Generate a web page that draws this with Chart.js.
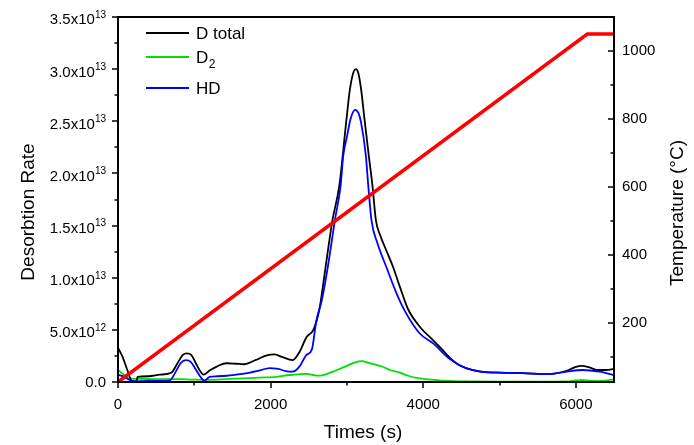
<!DOCTYPE html>
<html><head><meta charset="utf-8">
<script src="https://cdn.jsdelivr.net/npm/chart.js@4"></script>
<style>html,body{margin:0;padding:0;background:#fff}#wrap{width:694px;height:445px}</style>
</head><body><div id="wrap"><canvas id="c" width="694" height="445"></canvas></div>
<script>
// ---- data (rates in units of 1e12, time in s, temperature in °C) ----
const seriesLabels = ['D total', 'D₂', 'HD'];
const tTotal = [0,60,120,180,245,255,400,550,700,780,850,900,960,1020,1080,1120,1200,1300,1420,1550,1650,1800,1950,2050,2150,2290,2380,2470,2560,2640,2720,2810,2900,2990,3040,3090,3120,3150,3185,3235,3290,3335,3380,3440,3500,3606,3700,3800,3955,4130,4250,4350,4450,4570,4750,5000,5300,5650,5880,6000,6080,6180,6280,6400,6500];
const dTotal = [3.3,2.4,1.2,0.1,0.05,0.5,0.55,0.7,0.9,1.8,2.6,2.75,2.6,1.8,1.0,0.7,1.1,1.5,1.8,1.75,1.7,2.1,2.55,2.65,2.4,2.1,2.9,4.3,5.0,7.0,11.0,15.5,18.8,24.9,28.1,29.8,30.0,29.6,28.1,24.9,21.5,18.8,15.5,14.0,12.9,11.0,9.0,7.0,5.3,4.0,3.1,2.3,1.7,1.3,1.0,0.9,0.85,0.76,1.08,1.45,1.55,1.4,1.15,1.15,1.25];
const tD2 = [0,60,130,300,500,770,1000,1200,1450,1640,1850,2080,2250,2470,2600,2690,2820,2950,3100,3190,3300,3470,3562,3693,3800,3955,4150,4350,4700,5000,5500,5877,6000,6073,6200,6350,6500];
const d2 = [1.15,0.8,0.35,0.3,0.28,0.27,0.22,0.2,0.3,0.35,0.42,0.5,0.67,0.78,0.62,0.67,1.0,1.4,1.85,2.0,1.8,1.46,1.15,0.9,0.6,0.35,0.2,0.1,0.05,0.03,0.03,0.05,0.15,0.19,0.12,0.1,0.26];
const tHD = [0,80,150,220,400,550,680,750,820,890,950,1020,1080,1130,1200,1300,1430,1600,1730,1850,1990,2100,2200,2290,2380,2470,2540,2600,2670,2760,2842,2917,2952,3000,3050,3108,3150,3185,3248,3280,3322,3400,3518,3650,3760,3955,4130,4350,4570,4800,5000,5300,5650,5880,6090,6310,6500];
const hd = [0.7,0.5,0.2,0.05,0.1,0.1,0.15,0.9,1.8,2.1,1.95,1.2,0.5,0.1,0.5,0.55,0.6,0.75,0.9,1.1,1.34,1.25,1.05,1.0,1.5,2.6,3.1,5.9,7.8,11.5,15.5,18.8,21.7,23.5,25.3,26.1,25.8,24.9,21.7,18.8,15.5,13.3,11.0,8.5,6.8,4.65,3.7,2.2,1.3,0.95,0.89,0.85,0.76,0.99,1.15,0.99,0.67];
const tTemp = [0,6150,6500];
const temp = [25,1050,1050];

// ---- axes ----
const xTicks = [0,2000,4000,6000];
const xMinor = [1000,3000,5000];
const rateTicks = [0,5,10,15,20,25,30,35];
const rateTickBase = ['0.0','5.0x10','1.0x10','1.5x10','2.0x10','2.5x10','3.0x10','3.5x10'];
const rateTickExp = ['','12','13','13','13','13','13','13'];
const rateMinor = [2.5,7.5,12.5,17.5,22.5,27.5,32.5];
const tempTicks = [200,400,600,800,1000];
const tempMinor = [100,300,500,700,900];

const FONT = '"Liberation Sans", Arial, sans-serif';
const zip = (xs, ys) => xs.map((x, i) => ({x: x, y: ys[i]}));
const SUB = {'₀':'0','₁':'1','₂':'2','₃':'3'};

const decor = {
  id: 'decor',
  afterDraw(chart) {
    const ctx = chart.ctx, a = chart.chartArea;
    const sx = chart.scales.x, sy = chart.scales.y, sy2 = chart.scales.y2;
    ctx.save();
    ctx.strokeStyle = '#000';
    ctx.lineWidth = 2;
    ctx.strokeRect(a.left, a.top, a.right - a.left, a.bottom - a.top);
    ctx.lineWidth = 1.5;
    ctx.beginPath();
    xTicks.forEach(v => { const p = Math.round(sx.getPixelForValue(v)); ctx.moveTo(p, a.bottom); ctx.lineTo(p, a.bottom + 6); });
    xMinor.forEach(v => { const p = Math.round(sx.getPixelForValue(v)); ctx.moveTo(p, a.bottom); ctx.lineTo(p, a.bottom + 3.5); });
    rateTicks.forEach(v => { const p = Math.round(sy.getPixelForValue(v)); ctx.moveTo(a.left, p); ctx.lineTo(a.left - 6, p); });
    rateMinor.forEach(v => { const p = Math.round(sy.getPixelForValue(v)); ctx.moveTo(a.left, p); ctx.lineTo(a.left - 3.5, p); });
    tempTicks.forEach(v => { const p = Math.round(sy2.getPixelForValue(v)); ctx.moveTo(a.right, p); ctx.lineTo(a.right - 6, p); });
    tempMinor.forEach(v => { const p = Math.round(sy2.getPixelForValue(v)); ctx.moveTo(a.right, p); ctx.lineTo(a.right - 3.5, p); });
    ctx.stroke();

    ctx.fillStyle = '#000';
    ctx.textBaseline = 'alphabetic';
    // left tick labels with superscript exponents
    const right = 106;
    rateTicks.forEach((v, i) => {
      const p = sy.getPixelForValue(v);
      const base = rateTickBase[i], ex = rateTickExp[i];
      ctx.font = '15px ' + FONT;
      const wb = ctx.measureText(base).width;
      ctx.font = '10px ' + FONT;
      const we = ex ? ctx.measureText(ex).width : 0;
      const bl = ex ? p + 7.4 : p + 5.4;
      ctx.textAlign = 'left';
      ctx.font = '15px ' + FONT;
      ctx.fillText(base, right - we - wb, bl);
      if (ex) { ctx.font = '10px ' + FONT; ctx.fillText(ex, right - we, bl - 6.5); }
    });

    // axis titles
    ctx.font = '19px ' + FONT;
    ctx.textAlign = 'center';
    ctx.fillText('Times (s)', 363, 438);
    ctx.save(); ctx.translate(34, 212); ctx.rotate(-Math.PI / 2); ctx.fillText('Desorbtion Rate', 0, 0); ctx.restore();
    ctx.save(); ctx.translate(683, 213); ctx.rotate(-Math.PI / 2); ctx.fillText('Temperature (°C)', 0, 0); ctx.restore();

    // legend
    const rows = [33, 57, 88];
    ctx.textAlign = 'left';
    [0, 1, 2].forEach((di, i) => {
      const ds = chart.data.datasets[di];
      ctx.strokeStyle = ds.borderColor;
      ctx.lineWidth = 2;
      ctx.beginPath(); ctx.moveTo(146, rows[i]); ctx.lineTo(189, rows[i]); ctx.stroke();
      let lab = ds.label, sub = '';
      const last = lab.slice(-1);
      if (SUB[last]) { sub = SUB[last]; lab = lab.slice(0, -1); }
      ctx.font = '17px ' + FONT;
      ctx.fillText(lab, 196, rows[i] + 6);
      if (sub) {
        const w = ctx.measureText(lab).width;
        ctx.font = '12px ' + FONT;
        ctx.fillText(sub, 196 + w + 0.5, rows[i] + 11);
      }
    });
    ctx.restore();
  }
};

new Chart(document.getElementById('c'), {
  type: 'line',
  data: {
    datasets: [
      {label: seriesLabels[0], data: zip(tTotal, dTotal), borderColor: '#000000', borderWidth: 1.8, yAxisID: 'y', order: 2, cubicInterpolationMode: 'monotone'},
      {label: seriesLabels[1], data: zip(tD2, d2), borderColor: '#00e000', borderWidth: 1.8, yAxisID: 'y', order: 3, cubicInterpolationMode: 'monotone'},
      {label: seriesLabels[2], data: zip(tHD, hd), borderColor: '#0000ff', borderWidth: 1.8, yAxisID: 'y', order: 1, cubicInterpolationMode: 'monotone'},
      {label: 'Temperature', data: zip(tTemp, temp), borderColor: '#ff0000', borderWidth: 3.5, yAxisID: 'y2', order: 0}
    ]
  },
  options: {
    responsive: false,
    animation: false,
    devicePixelRatio: 1,
    layout: {padding: {top: 16, left: 0, right: 0, bottom: 0}},
    elements: {point: {radius: 0}, line: {fill: false}},
    plugins: {legend: {display: false}, tooltip: {enabled: false}},
    scales: {
      x: {
        type: 'linear', position: 'bottom', min: 0, max: 6500,
        afterBuildTicks: s => { s.ticks = xTicks.map(v => ({value: v})); },
        afterFit: s => { s.height = 63; },
        grid: {display: false, drawTicks: false}, border: {display: false},
        ticks: {color: '#000', font: {family: FONT, size: 15}, padding: 14, maxRotation: 0, autoSkip: false,
          callback: v => String(v)}
      },
      y: {
        type: 'linear', position: 'left', min: 0, max: 35,
        afterBuildTicks: s => { s.ticks = rateTicks.map(v => ({value: v})); },
        afterFit: s => { s.width = 118; },
        grid: {display: false, drawTicks: false}, border: {display: false},
        ticks: {display: false}
      },
      y2: {
        type: 'linear', position: 'right', min: 25, max: 1100,
        afterBuildTicks: s => { s.ticks = tempTicks.map(v => ({value: v})); },
        afterFit: s => { s.width = 80; },
        grid: {display: false, drawTicks: false}, border: {display: false},
        ticks: {color: '#000', font: {family: FONT, size: 15}, padding: 8, autoSkip: false,
          callback: v => String(v)}
      }
    }
  },
  plugins: [decor]
});
</script>
</body></html>
